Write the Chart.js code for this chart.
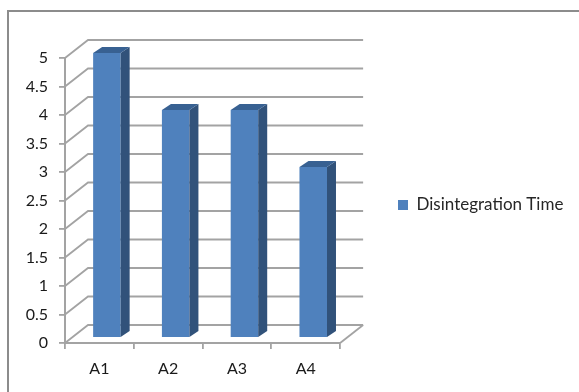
<!DOCTYPE html>
<html>
<head>
<meta charset="utf-8">
<title>Disintegration Time</title>
<script src="https://cdn.jsdelivr.net/npm/chart.js@4/dist/chart.umd.min.js"></script>
<style>
html,body{margin:0;padding:0;background:#fff;overflow:hidden}
canvas{display:block}
</style>
</head>
<body>
<canvas id="chart" width="579" height="392"></canvas>
<script>
const categories=['A1','A2','A3','A4'];
const seriesName='Disintegration Time';
const disintegrationTime=[5,4,4,3];

const FONT='Lato, Carlito, sans-serif';
const LINE='#a3a3a3';
const FRONT='#4f81bd', SIDE='#31527a', TOP='#386192';
// fake 3D: how far the back wall sits from the front plane, and the column depth
const WALL={dx:23,dy:-18};
const BAR_SHIFT={dx:7.5,dy:-5};
const BAR_DEPTH={dx:9,dy:-6};

function poly(ctx,pts,fill){
  ctx.beginPath();
  pts.forEach((p,i)=>i?ctx.lineTo(p[0],p[1]):ctx.moveTo(p[0],p[1]));
  ctx.closePath();
  ctx.fillStyle=fill;
  ctx.fill();
}

const outerFrame={
  id:'outerFrame',
  beforeDraw(chart){
    const c=chart.ctx;
    c.save();
    c.strokeStyle='#8c8c8c';
    c.lineWidth=2;
    c.beginPath();
    c.moveTo(8,392);c.lineTo(8,11);c.lineTo(579,11);
    c.stroke();
    c.restore();
  }
};

// legend sits away from the plot, the library would butt it against the walls
const legendPlace={
  id:'legendPlace',
  afterLayout(chart){
    const l=chart.legend;
    const w=l.right-l.left;
    l.left=388;l.right=388+w;
    l.top-=20;l.bottom-=20;
  }
};

const walls={
  id:'walls',
  beforeDatasetsDraw(chart){
    const c=chart.ctx,y=chart.scales.y,a=chart.chartArea;
    c.save();
    c.strokeStyle=LINE;
    c.lineWidth=1.8;
    y.ticks.forEach(t=>{
      const py=y.getPixelForValue(t.value);
      c.beginPath();
      c.moveTo(a.left,py);
      c.lineTo(a.left+WALL.dx,py+WALL.dy);
      c.lineTo(a.right+WALL.dx,py+WALL.dy);
      c.stroke();
    });
    // floor edge on the right
    c.beginPath();
    c.moveTo(a.right,a.bottom);
    c.lineTo(a.right+WALL.dx,a.bottom+WALL.dy);
    c.stroke();
    c.restore();
    // columns stand in the middle of the floor
    c.save();
    c.translate(BAR_SHIFT.dx,BAR_SHIFT.dy);
  },
  afterDatasetsDraw(chart){
    const c=chart.ctx;
    chart.getDatasetMeta(0).data.forEach(bar=>{
      const {x,y,base,width}=bar.getProps(['x','y','base','width'],true);
      const r=x+width/2,l=x-width/2,dx=BAR_DEPTH.dx,dy=BAR_DEPTH.dy;
      poly(c,[[r,y],[r+dx,y+dy],[r+dx,base+dy],[r,base]],SIDE);
      poly(c,[[l,y],[l+dx,y+dy],[r+dx,y+dy],[r,y]],TOP);
    });
    c.restore();
  }
};

new Chart(document.getElementById('chart'),{
  type:'bar',
  data:{
    labels:categories,
    datasets:[{
      label:seriesName,
      data:disintegrationTime,
      backgroundColor:FRONT,
      borderWidth:0,
      barPercentage:.4,
      categoryPercentage:1,
      clip:false
    }]
  },
  options:{
    responsive:false,
    animation:false,
    layout:{padding:{top:58,left:0,right:53.5,bottom:0}},
    plugins:{
      tooltip:{enabled:false},
      legend:{
        position:'right',
        maxWidth:260,
        labels:{boxWidth:10,boxHeight:10,padding:10,color:'#262626',font:{family:FONT,size:17}}
      }
    },
    scales:{
      y:{
        min:0,max:5,
        ticks:{stepSize:.5,color:'#1a1a1a',padding:11,font:{family:FONT,size:16},callback:v=>String(v)},
        grid:{drawOnChartArea:false,color:LINE,lineWidth:1.8,tickLength:6},
        border:{color:LINE,width:2},
        afterFit(s){s.width=65;}
      },
      x:{
        ticks:{color:'#1a1a1a',padding:10,font:{family:FONT,size:16},maxRotation:0},
        grid:{drawOnChartArea:false,offset:true,color:LINE,lineWidth:1.8,tickLength:6},
        border:{color:LINE,width:2},
        afterFit(s){s.height=49;}
      }
    }
  },
  plugins:[outerFrame,legendPlace,walls]
});
</script>
</body>
</html>
